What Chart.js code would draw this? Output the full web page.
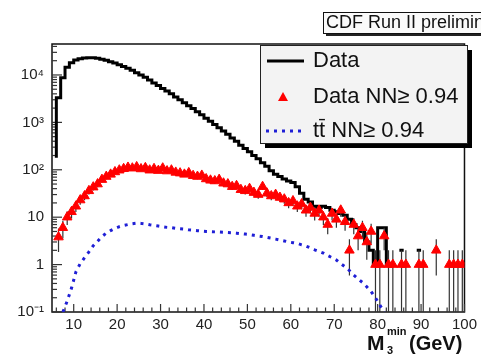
<!DOCTYPE html>
<html>
<head>
<meta charset="utf-8">
<script src="https://cdn.jsdelivr.net/npm/chart.js@4/dist/chart.umd.min.js"></script>
<style>
  html, body { margin: 0; padding: 0; background: #fff; }
  canvas { display: block; }
</style>
</head>
<body>
<canvas id="c" width="481" height="359"></canvas>
<script>
// Bin lower edges, 1 GeV wide, from 5 to 99 GeV
const binEdges = Array.from({ length: 95 }, (_, i) => 5 + i);

// All data events per bin
const dataAll = [
  0, 180, 3300, 8700, 14500, 18000, 20800, 22000, 22800, 23200,
  23000, 22500, 21500, 20500, 19000, 17800, 16500, 15000, 13800, 12500,
  11200, 10000, 8900, 7800, 6800, 6000, 5200, 4600, 4000, 3450,
  3000, 2600, 2250, 1950, 1680, 1450, 1220, 1050, 900, 770,
  660, 560, 470, 400, 330, 280, 240, 200, 170, 140,
  118, 95, 80, 72, 64, 58, 54, 44, 32, 24,
  21, 17, 16, 17, 16, 14, 13, 12, 11, 9,
  7, 6, 5, 3, 2, 1, 6, 6, 1, 0,
  2, 2, 0, 0, 2, 2, 0, 0, 2, 0,
  0, 1, 1, 1, 1
];

// Data events passing NN >= 0.94 (null = empty bin)
const dataNN = [
  null, 3.8, 6, 10, 13, 17, 23, 28, 36, 43,
  50, 62, 72, 80, 90, 98, 105, 112, 108, 115,
  104, 110, 98, 105, 96, 108, 94, 98, 88, 85,
  80, 86, 75, 72, 76, 64, 60, 58, 62, 52,
  50, 44, 46, 38, 36, 40, 33, 30, 44, 32,
  28, 30, 26, 24, 20, 22, 17, 19, 14, 16,
  12, 14, 10, 7, 12, 9, 14, 8, 2, 7,
  4, 6, 3, 5, 1, 1, 4, 1, 1, null,
  1, 1, null, null, 1, 1, null, null, 2, null,
  null, 1, 1, 1, 1
];

// Expected ttbar events passing NN >= 0.94
const ttbarNN = [
  0, 0, 0.1, 0.17, 0.32, 0.7, 1.05, 1.4, 1.85, 2.5,
  3.1, 3.9, 4.6, 5.2, 5.8, 6.3, 6.7, 7.0, 7.3, 7.5,
  7.4, 7.2, 6.9, 6.7, 6.5, 6.3, 6.1, 6.0, 5.8, 5.7,
  5.6, 5.4, 5.3, 5.2, 5.1, 5.0, 4.95, 4.9, 4.85, 4.8,
  4.75, 4.7, 4.6, 4.5, 4.4, 4.3, 4.15, 4.0, 3.9, 3.75,
  3.6, 3.45, 3.3, 3.15, 3.0, 2.9, 2.8, 2.6, 2.45, 2.25,
  2.05, 1.9, 1.75, 1.55, 1.4, 1.25, 1.05, 0.9, 0.75, 0.6,
  0.5, 0.42, 0.34, 0.27, 0.2, 0.14, 0.1, 0, 0, 0,
  0, 0, 0, 0, 0, 0, 0, 0, 0, 0,
  0, 0, 0, 0, 0
];

const xTickValues = [10, 20, 30, 40, 50, 60, 70, 80, 90, 100];
const yTickValues = [0.1, 1, 10, 100, 1000, 10000];
const yTickLabels = ['10\u207B\u00B9', '1', '10', '10\u00B2', '10\u00B3', '10\u2074'];

const legendLabels = ['Data', 'Data NN\u2265 0.94', 't\u0074\u0304 NN\u2265 0.94'];
const banner = 'CDF Run II preliminary';

const FONT = "'Liberation Sans', Arial, Helvetica, sans-serif";

// Histogram as a step line over bin edges, closed at the last upper edge
const histPoints = binEdges.map((e, i) => ({ x: e, y: dataAll[i] }));
histPoints.push({ x: binEdges[binEdges.length - 1] + 1, y: dataAll[dataAll.length - 1] });

const nnPoints = binEdges.map((e, i) => ({ x: e + 0.5, y: dataNN[i] }));
const ttPoints = binEdges.map((e, i) => ({ x: e + 0.5, y: ttbarNN[i] }));

// Poisson error bars for the selected-data markers
const errorBars = {
  id: 'errorBars',
  beforeDatasetDraw(chart, args) {
    if (args.index !== 1) return;
    const { ctx, chartArea: a } = chart;
    const xs = chart.scales.x, ys = chart.scales.y;
    ctx.save();
    ctx.beginPath();
    ctx.rect(a.left, a.top, a.right - a.left, a.bottom - a.top);
    ctx.clip();
    ctx.strokeStyle = '#333';
    ctx.lineWidth = 1.2;
    nnPoints.forEach(p => {
      if (p.y == null) return;
      const s = Math.sqrt(p.y);
      const px = xs.getPixelForValue(p.x);
      const lo = p.y - s;
      const yLo = lo > ys.min ? ys.getPixelForValue(lo) : a.bottom;
      const yHi = ys.getPixelForValue(p.y + s);
      ctx.beginPath();
      ctx.moveTo(px, yLo);
      ctx.lineTo(px, yHi);
      ctx.stroke();
    });
    ctx.restore();
  }
};

// Frame with inward ticks, axis title, legend and banner
const decor = {
  id: 'decor',
  beforeDatasetsDraw(chart) {
    const { ctx, chartArea: a } = chart;
    const xs = chart.scales.x, ys = chart.scales.y;
    ctx.save();
    ctx.strokeStyle = '#111';
    ctx.lineWidth = 1.5;
    ctx.strokeRect(a.left, a.top, a.right - a.left, a.bottom - a.top);

    ctx.lineWidth = 1.2;
    ctx.strokeStyle = '#333';
    // x ticks: major every 10, minor every 2
    for (let v = 6; v <= 100; v += 2) {
      const px = xs.getPixelForValue(v);
      const len = v % 10 === 0 ? 8 : 4.5;
      ctx.beginPath();
      ctx.moveTo(px, a.bottom);
      ctx.lineTo(px, a.bottom - len);
      ctx.stroke();
    }
    // y ticks: decades and 2..9 minors
    for (let d = -1; d <= 4; d++) {
      for (let k = 1; k <= 9; k++) {
        const v = k * Math.pow(10, d);
        if (v < ys.min || v > ys.max) continue;
        const py = ys.getPixelForValue(v);
        const len = k === 1 ? 10 : 5;
        ctx.beginPath();
        ctx.moveTo(a.left, py);
        ctx.lineTo(a.left + len, py);
        ctx.stroke();
      }
    }
    ctx.restore();
  },
  afterDraw(chart) {
    const { ctx } = chart;
    ctx.save();

    // axis title M_3^min (GeV)
    ctx.fillStyle = '#111';
    ctx.textBaseline = 'alphabetic';
    ctx.textAlign = 'left';
    ctx.font = `bold 21px ${FONT}`;
    ctx.fillText('M', 367, 350);
    ctx.font = `bold 11px ${FONT}`;
    ctx.fillText('min', 387, 335);
    ctx.fillText('3', 387, 354);
    ctx.font = `bold 20px ${FONT}`;
    ctx.fillText('(GeV)', 409, 350);

    // banner
    ctx.fillStyle = '#222';
    ctx.fillRect(326, 15, 160, 21);
    ctx.fillStyle = '#fafafa';
    ctx.fillRect(323, 12, 160, 21);
    ctx.strokeStyle = '#111';
    ctx.lineWidth = 1;
    ctx.strokeRect(323.5, 12.5, 160, 21);
    ctx.fillStyle = '#111';
    ctx.font = `18px ${FONT}`;
    ctx.textBaseline = 'middle';
    ctx.fillText(banner, 326, 23.5);

    // legend box with drop shadow
    const L = { x: 260, y: 45, w: 207, h: 98 };
    ctx.fillStyle = '#000';
    ctx.fillRect(L.x + 5, L.y + 5, L.w, L.h);
    ctx.fillStyle = '#f3f3f3';
    ctx.fillRect(L.x, L.y, L.w, L.h);
    ctx.strokeStyle = '#222';
    ctx.lineWidth = 1;
    ctx.strokeRect(L.x + 0.5, L.y + 0.5, L.w, L.h);

    const ds = chart.data.datasets;
    const rows = [61, 97, 131];
    // Data: solid black line
    ctx.strokeStyle = ds[0].borderColor;
    ctx.lineWidth = 3;
    ctx.beginPath();
    ctx.moveTo(267, rows[0]);
    ctx.lineTo(304, rows[0]);
    ctx.stroke();
    // Data NN: red triangle
    ctx.fillStyle = ds[1].pointBackgroundColor;
    ctx.beginPath();
    ctx.moveTo(283, rows[1] - 5);
    ctx.lineTo(288, rows[1] + 4);
    ctx.lineTo(278, rows[1] + 4);
    ctx.closePath();
    ctx.fill();
    // ttbar: blue dotted line
    ctx.strokeStyle = ds[2].borderColor;
    ctx.lineWidth = 3;
    ctx.setLineDash(ds[2].borderDash);
    ctx.beginPath();
    ctx.moveTo(266, rows[2]);
    ctx.lineTo(304, rows[2]);
    ctx.stroke();
    ctx.setLineDash([]);

    ctx.fillStyle = '#111';
    ctx.font = `22px ${FONT}`;
    ctx.textBaseline = 'middle';
    legendLabels.forEach((t, i) => ctx.fillText(t, 313, rows[i]));
    ctx.restore();
  }
};

new Chart(document.getElementById('c'), {
  type: 'line',
  data: {
    datasets: [
      {
        label: legendLabels[0],
        data: histPoints,
        borderColor: '#000',
        borderWidth: 3,
        stepped: 'after',
        pointRadius: 0,
        fill: false,
        order: 3
      },
      {
        label: legendLabels[1],
        data: nnPoints,
        showLine: false,
        pointStyle: 'triangle',
        pointRadius: 5.5,
        pointBackgroundColor: '#ff0000',
        pointBorderColor: '#ff0000',
        pointBorderWidth: 1,
        order: 2
      },
      {
        label: legendLabels[2],
        data: ttPoints,
        borderColor: '#1f1fd6',
        borderWidth: 3,
        borderDash: [3, 5],
        pointRadius: 0,
        tension: 0,
        fill: false,
        order: 1
      }
    ]
  },
  options: {
    responsive: false,
    animation: false,
    devicePixelRatio: 1,
    layout: { padding: { left: 0, right: 14, top: 44, bottom: 0 } },
    plugins: { legend: { display: false }, tooltip: { enabled: false } },
    scales: {
      x: {
        type: 'linear',
        min: 5,
        max: 100,
        grid: { display: false, drawTicks: false },
        border: { display: false },
        afterFit(s) { s.height = 47; },
        afterBuildTicks(s) { s.ticks = xTickValues.map(v => ({ value: v })); },
        ticks: {
          autoSkip: false,
          maxRotation: 0,
          padding: 4,
          color: '#222',
          font: { family: FONT, size: 15 },
          callback: v => String(v)
        }
      },
      y: {
        type: 'logarithmic',
        min: 0.1,
        max: 45000,
        grid: { display: false, drawTicks: false },
        border: { display: false },
        afterFit(s) { s.width = 52; },
        afterBuildTicks(s) { s.ticks = yTickValues.map(v => ({ value: v })); },
        ticks: {
          autoSkip: false,
          padding: 8,
          color: '#222',
          font: { family: FONT, size: 15 },
          callback: (v) => {
            const i = yTickValues.findIndex(t => Math.abs(t - v) / t < 1e-6);
            return i >= 0 ? yTickLabels[i] : '';
          }
        }
      }
    }
  },
  plugins: [errorBars, decor]
});
</script>
</body>
</html>
